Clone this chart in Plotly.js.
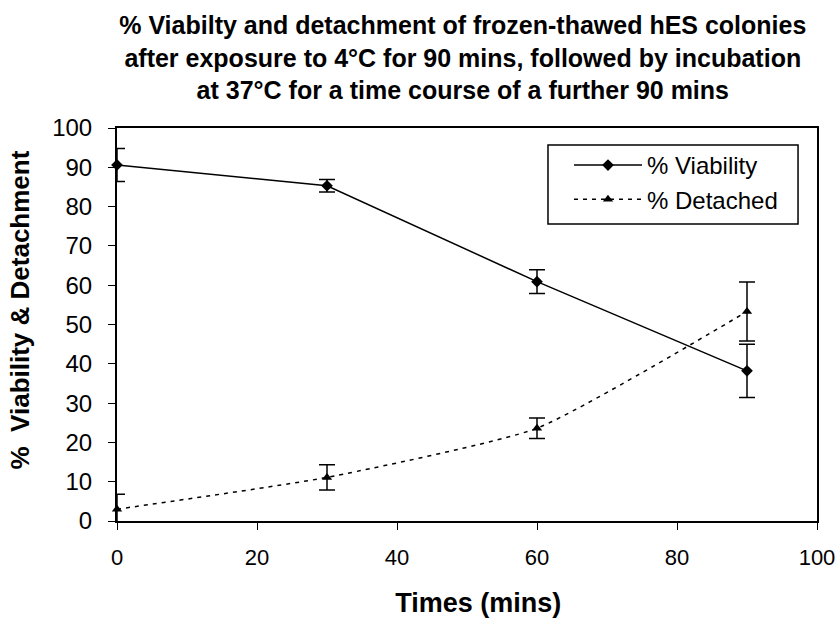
<!DOCTYPE html>
<html>
<head>
<meta charset="utf-8">
<script src="https://cdn.plot.ly/plotly-3.0.1.min.js"></script>
<style>html,body{margin:0;padding:0;background:#fff;}#chart{width:839px;height:618px;}</style>
</head>
<body>
<div id="chart"></div>
<script>
const times = [0, 30, 60, 90];
const viability = [90.6, 85.3, 60.9, 38.2];
const viabilityErr = [4.2, 1.6, 3.0, 6.8];
const detached = [3.0, 11.1, 23.6, 53.3];
const detachedErr = [3.8, 3.2, 2.6, 7.5];
const xTicks = [0, 20, 40, 60, 80, 100];
const yTicks = [0, 10, 20, 30, 40, 50, 60, 70, 80, 90, 100];

const FONT = 'Liberation Sans, Arial, sans-serif';
const NB = '\u00A0';
const pad = n => '<span>' + NB.repeat(n) + '</span>';

const traces = [
  {
    x: times, y: viability, name: '% Viability', type: 'scatter', mode: 'lines+markers',
    legendgroup: 'v',
    line: {color: '#000', width: 1.5},
    marker: {symbol: 'diamond', size: 9, color: '#000'},
    error_y: {type: 'data', array: viabilityErr, visible: true, color: '#000', thickness: 1.5, width: 8},
    cliponaxis: false
  },
  {
    x: times, y: detached, name: '% Detached', type: 'scatter', mode: 'lines+markers',
    legendgroup: 'd',
    line: {color: '#000', width: 1.5, dash: '4px,5px', shape: 'spline', smoothing: 0.5},
    marker: {symbol: 'triangle-up', size: 9, color: '#000'},
    error_y: {type: 'data', array: detachedErr, visible: true, color: '#000', thickness: 1.5, width: 8},
    cliponaxis: false
  }
];

const layout = {
  width: 839, height: 618,
  paper_bgcolor: '#fff', plot_bgcolor: '#fff',
  margin: {l: 117, r: 22, t: 128, b: 97, pad: 0},
  font: {family: FONT, color: '#000', size: 22},
  title: {
    text: '% Viabilty and detachment of frozen-thawed hES colonies<br>after exposure to 4°C for 90 mins, followed by incubation<br>at 37°C for a time course of a further 90 mins',
    font: {family: FONT, size: 25, weight: 'bold', color: '#000'},
    x: 0.494, xanchor: 'center', xref: 'paper',
    y: 1 - 34/618, yanchor: 'middle', yref: 'container'
  },
  xaxis: {
    range: [0, 100], tickvals: xTicks, ticktext: xTicks.map(String),
    showline: true, linecolor: '#000', linewidth: 2, mirror: true,
    ticks: 'outside', ticklen: 7, tickwidth: 1, tickcolor: '#000',
    showgrid: false, zeroline: false,
    tickfont: {family: FONT, size: 22},
    ticklabelstandoff: 9,
    title: {text: pad(3) + 'Times (mins)', font: {family: FONT, size: 27, weight: 'bold'}, standoff: 28}
  },
  yaxis: {
    range: [0, 100], tickvals: yTicks, ticktext: yTicks.map(String),
    showline: true, linecolor: '#000', linewidth: 2, mirror: true,
    ticks: 'outside', ticklen: 7, tickwidth: 1, tickcolor: '#000',
    showgrid: false, zeroline: false,
    tickfont: {family: FONT, size: 24},
    ticklabelstandoff: 11,
    title: {text: pad(4) + '%  Viability & Detachment', font: {family: FONT, size: 26, weight: 'bold'}, standoff: 15}
  },
  shapes: [
    {type: 'rect', xref: 'paper', yref: 'paper', x0: 0.6157, x1: 0.9729, y0: 0.7557, y1: 0.9567,
     line: {color: '#000', width: 1.5}, fillcolor: 'rgba(0,0,0,0)', layer: 'above'}
  ],
  showlegend: true,
  legend: {
    x: 0.6457, y: 0.962, xanchor: 'left', yanchor: 'top',
    bgcolor: 'rgba(0,0,0,0)', borderwidth: 0,
    font: {family: FONT, size: 24, color: '#000'},
    itemwidth: 68, tracegroupgap: 0, traceorder: 'grouped'
  }
};

Plotly.newPlot('chart', traces, layout, {displayModeBar: false, staticPlot: true});
</script>
</body>
</html>
